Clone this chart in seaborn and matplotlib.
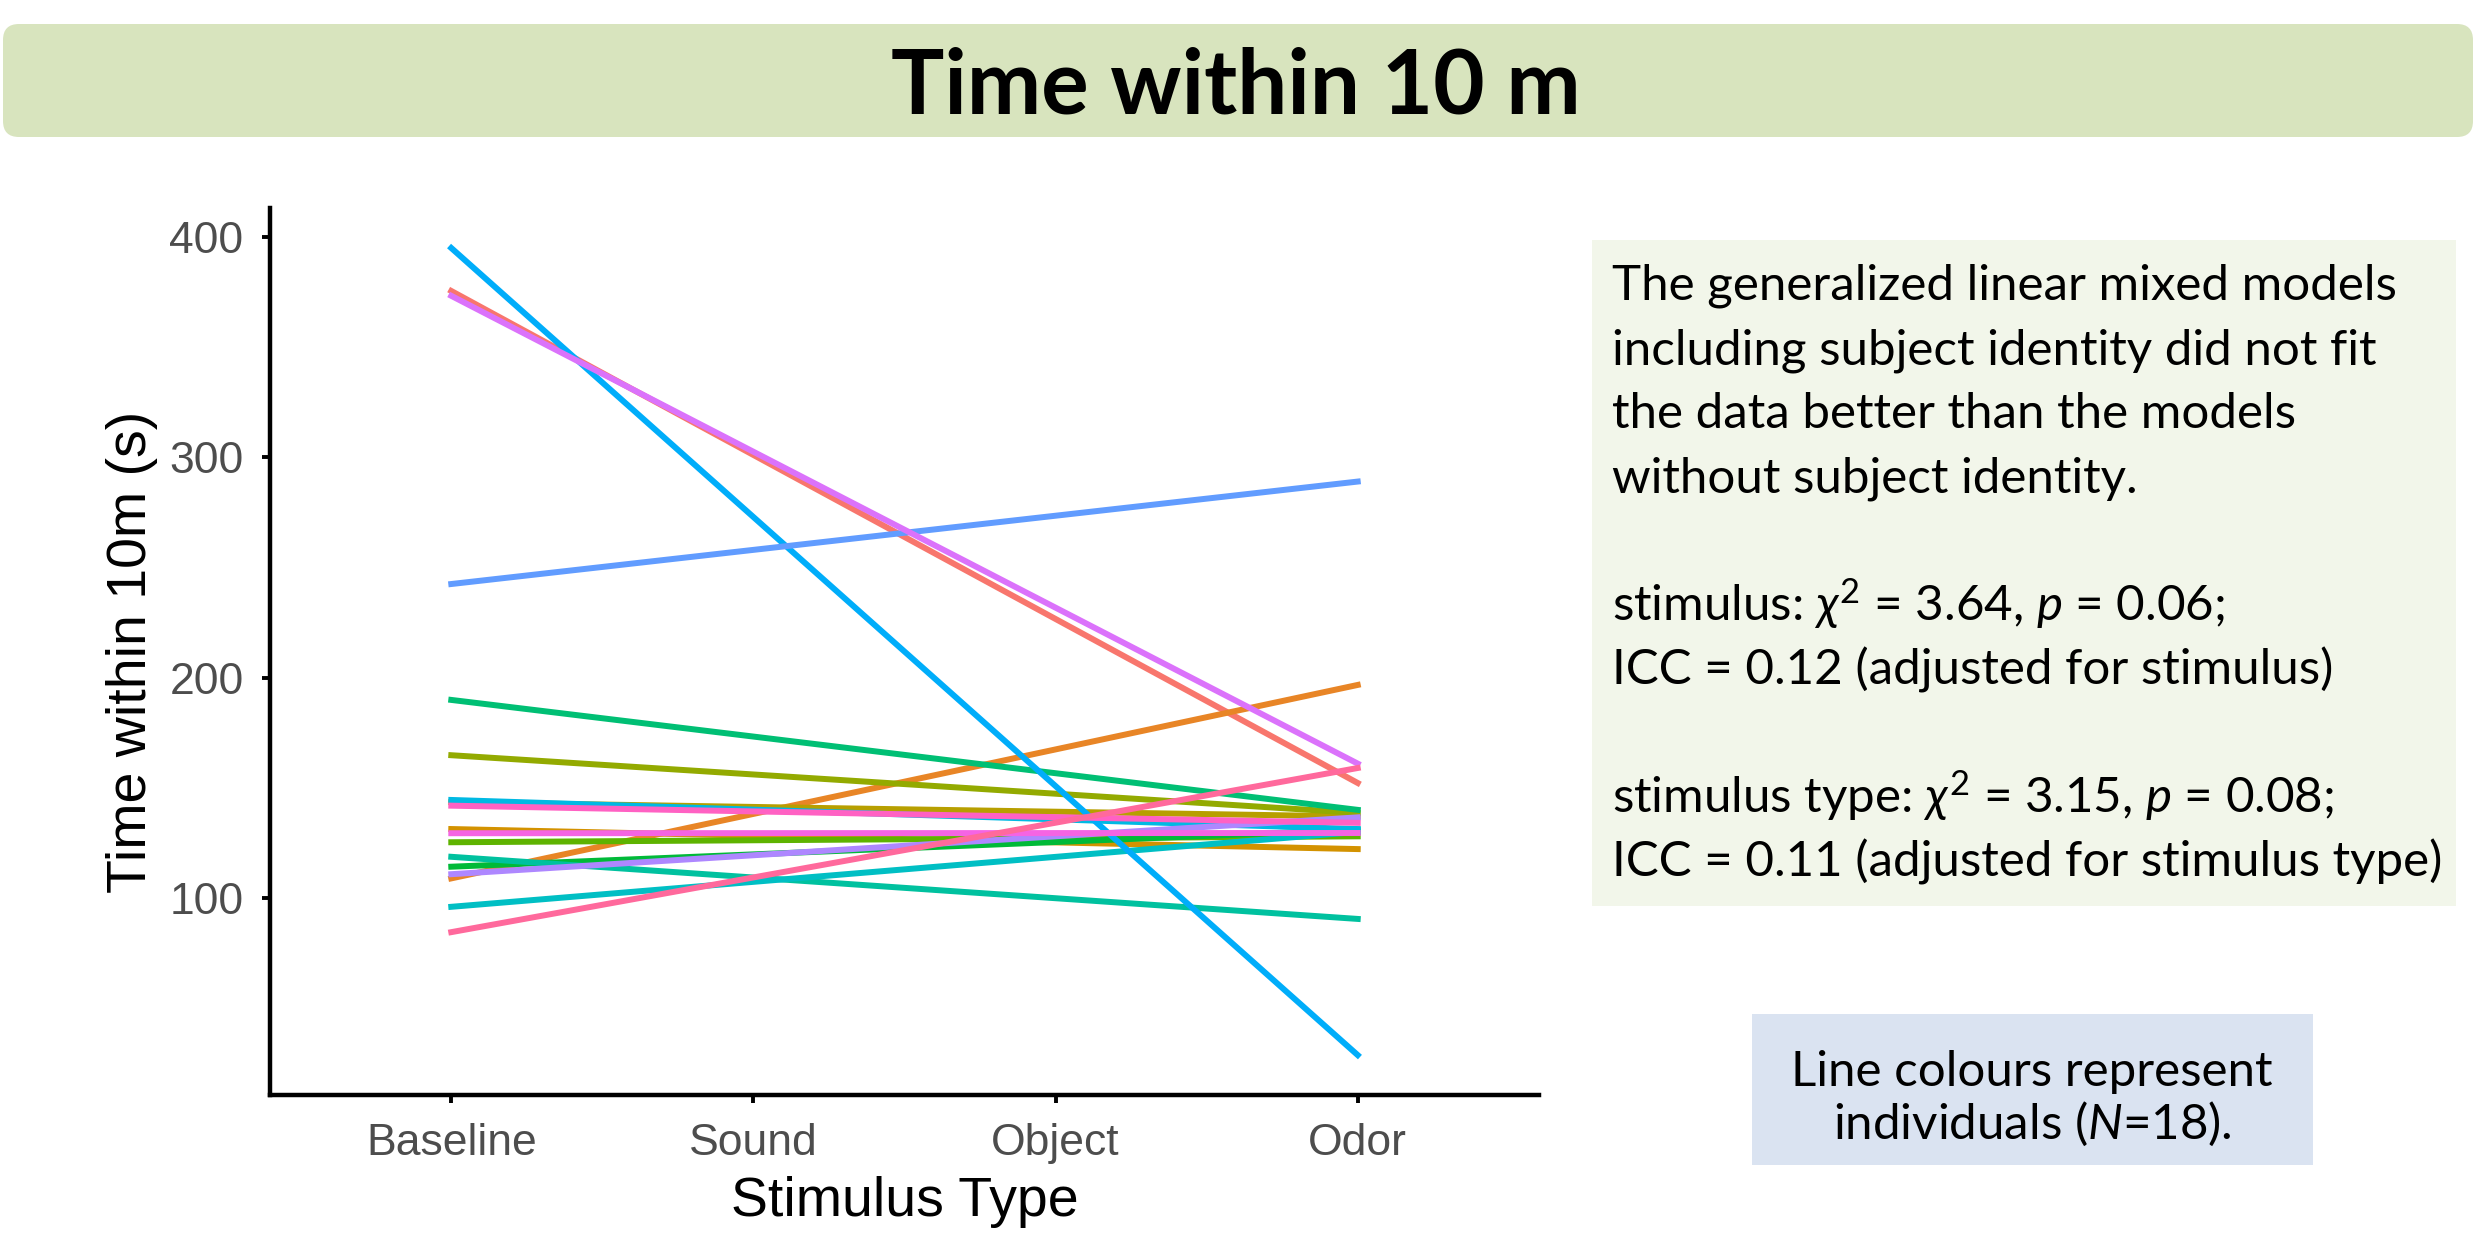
import numpy as np
import pandas as pd
import matplotlib
matplotlib.use("Agg")
import matplotlib.pyplot as plt
import matplotlib.colors as mcolors
from matplotlib.patches import FancyBboxPatch, Rectangle
import seaborn as sns

# ---------------- data ----------------
categories = ["Baseline", "Sound", "Object", "Odor"]
individuals = [f"ID{i:02d}" for i in range(1, 19)]
baseline_values = [375.5, 108.9, 131.3, 143.5, 164.8, 125.3, 114.2, 189.9, 118.7,
                   96.0, 144.5, 395.0, 242.5, 110.8, 373.3, 129.4, 141.9, 84.5]
odor_values = [152.2, 196.7, 122.2, 137.0, 138.6, 128.0, 131.0, 140.0, 90.5,
               130.0, 131.3, 28.7, 289.0, 136.6, 161.0, 129.5, 134.1, 159.0]
y_ticks = [100, 200, 300, 400]

title_text = "Time within 10 m"
x_title = "Stimulus Type"
y_title = "Time within 10m (s)"
stats_lines = [
    "The generalized linear mixed models",
    "including subject identity did not fit",
    "the data better than the models",
    "without subject identity.",
    "",
    r"stimulus: $\mathit{\chi}^{2}$ = 3.64, $\mathit{p}$ = 0.06;",
    "ICC = 0.12 (adjusted for stimulus)",
    "",
    r"stimulus type: $\mathit{\chi}^{2}$ = 3.15, $\mathit{p}$ = 0.08;",
    "ICC = 0.11 (adjusted for stimulus type)",
]
note_lines = ["Line colours represent", r"individuals ($\mathit{N}$=18)."]

# ---------------- colours (ggplot2 default hue palette) ----------------
def hcl_hex(h, c=100.0, l=65.0):
    hr = np.deg2rad(h)
    U, V = c * np.cos(hr), c * np.sin(hr)
    Xn, Yn, Zn = 95.047, 100.0, 108.883
    Y = Yn * ((l + 16) / 116) ** 3 if l > 8 else Yn * l / 903.3
    t = Xn + 15 * Yn + 3 * Zn
    un, vn = 4 * Xn / t, 9 * Yn / t
    u = U / (13 * l) + un
    v = V / (13 * l) + vn
    X = 9.0 * Y * u / (4 * v)
    Z = -X / 3 - 5 * Y + 3 * Y / v
    X, Y, Z = X / 100, Y / 100, Z / 100
    r = 3.240479 * X - 1.537150 * Y - 0.498535 * Z
    g = -0.969256 * X + 1.875992 * Y + 0.041556 * Z
    b = 0.055648 * X - 0.204043 * Y + 1.057311 * Z

    def gam(q):
        q = min(max(q, 0.0), 1.0)
        return 12.92 * q if q <= 0.0031308 else 1.055 * q ** (1 / 2.4) - 0.055

    return mcolors.to_hex((gam(r), gam(g), gam(b)))


n = len(individuals)
palette = [hcl_hex(15 + 360.0 / n * i) for i in range(n)]

# ---------------- long table ----------------
rows = []
for ind, b, o in zip(individuals, baseline_values, odor_values):
    rows.append({"individual": ind, "position": categories.index("Baseline"), "time": b})
    rows.append({"individual": ind, "position": categories.index("Odor"), "time": o})
df = pd.DataFrame(rows)

# ---------------- figure ----------------
plt.rcParams["font.family"] = ["Liberation Sans", "DejaVu Sans"]
plt.rcParams["mathtext.fontset"] = "custom"
plt.rcParams["mathtext.rm"] = "Lato"
plt.rcParams["mathtext.it"] = "Lato:italic"
plt.rcParams["mathtext.bf"] = "Lato:bold"

W, H = 2491, 1245
fig = plt.figure(figsize=(W / 100, H / 100), dpi=100)
fig.patch.set_facecolor("white")

bg = fig.add_axes([0, 0, 1, 1])
bg.set_xlim(0, W)
bg.set_ylim(H, 0)
bg.axis("off")

# banner
bg.add_patch(FancyBboxPatch((3, 24), 2470, 113,
                            boxstyle="round,pad=0,rounding_size=16",
                            fc="#D8E4BE", ec="none"))
bg.text(1236, 114, title_text, ha="center", va="baseline",
        fontsize=64, fontweight="bold", family=["Lato", "DejaVu Sans"], color="black")

# stats box
bg.add_patch(Rectangle((1592, 240), 864, 666, fc="#F2F6EA", ec="none"))
for i, line in enumerate(stats_lines):
    if line:
        bg.text(1612, 300 + 64.1 * i, line, ha="left", va="baseline",
                fontsize=35.5, family=["Lato", "DejaVu Sans"], color="black")

# note box
bg.add_patch(Rectangle((1752, 1014), 561, 151, fc="#DAE3F1", ec="none"))
for yb, line in zip([1086, 1139], note_lines):
    bg.text(2032, yb, line, ha="center", va="baseline",
            fontsize=35.5, family=["Lato", "DejaVu Sans"], color="black")

# main plot
ax = fig.add_axes([270 / W, 1 - 1095 / H, (1539 - 270) / W, (1095 - 208) / H])
sns.lineplot(data=df, x="position", y="time", hue="individual",
             palette=palette, legend=False, linewidth=4.3,
             estimator=None, sort=True, ax=ax)

ax.set_xlim(-0.6, 3.6)
ax.set_ylim(10.59, 413.16)
ax.set_xticks(range(len(categories)))
ax.set_xticklabels(categories)
ax.set_yticks(y_ticks)
ax.set_facecolor("white")
for side in ["top", "right"]:
    ax.spines[side].set_visible(False)
for side in ["left", "bottom"]:
    ax.spines[side].set_linewidth(3.2)
    ax.spines[side].set_color("black")
ax.tick_params(axis="both", length=6, width=2.8, color="black",
               labelsize=32, labelcolor="#4D4D4D")
ax.tick_params(axis="x", pad=14)
ax.tick_params(axis="y", pad=13)

ax.set_xlabel(x_title, fontsize=40, color="black")
ax.xaxis.set_label_coords(0.5, -(1176 - 1095) / (1095 - 208))
ax.xaxis.label.set_va("top")
ax.set_ylabel(y_title, fontsize=40, color="black")
ax.yaxis.label.set_va("center")
ax.yaxis.set_label_coords((132 - 270) / (1539 - 270), 0.5)

fig.savefig("out.png", dpi=100)
